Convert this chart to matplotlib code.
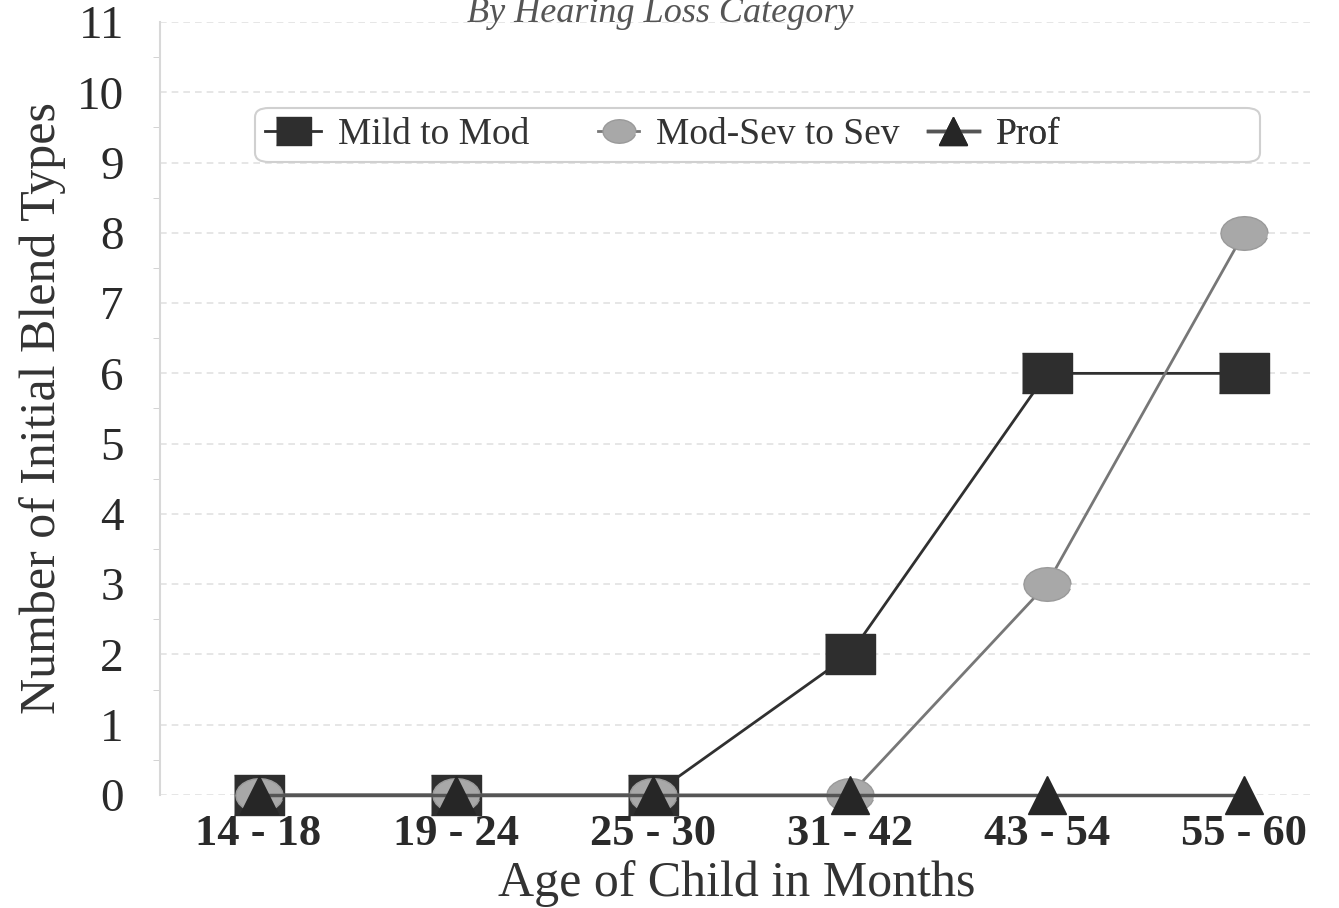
import math
import matplotlib
matplotlib.use("Agg")
import matplotlib.pyplot as plt
from matplotlib.patches import FancyBboxPatch

# data
age_groups = ["14 - 18", "19 - 24", "25 - 30", "31 - 42", "43 - 54", "55 - 60"]
mild_to_mod = [0, 0, 0, 2, 6, 6]
modsev_to_sev = [0, 0, 0, 0, 3, 8]
prof = [0, 0, 0, 0, 0, 0]
y_ticks = list(range(0, 12))

plt.rcParams['font.family'] = ['Liberation Serif', 'DejaVu Serif']

W, H = 1339, 908
fig = plt.figure(figsize=(W / 100, H / 100), dpi=100)
ax_l, ax_r, ax_t, ax_b = 160, 1313, 22, 795
ax = fig.add_axes([ax_l / W, 1 - ax_b / H, (ax_r - ax_l) / W, (ax_b - ax_t) / H])

x = list(range(len(age_groups)))
rect = [(-1.25, -1), (1.25, -1), (1.25, 1), (-1.25, 1)]
ellipse_pts = [(1.4 * math.cos(t / 24 * 2 * math.pi), math.sin(t / 24 * 2 * math.pi)) for t in range(24)]

h1, = ax.plot(x, mild_to_mod, color='#303030', lw=2, marker=rect, markersize=36,
              markerfacecolor='#2e2e2e', markeredgecolor='#2e2e2e', label='Mild to Mod',
              zorder=3, clip_on=False)
h2, = ax.plot(x, modsev_to_sev, color='#777777', lw=2, marker=ellipse_pts, markersize=34,
              markerfacecolor='#a8a8a8', markeredgecolor='#9a9a9a', label='Mod-Sev to Sev',
              zorder=4, clip_on=False)
h3, = ax.plot(x, prof, color='#555555', lw=2.5, marker='^', markersize=28,
              markerfacecolor='#262626', markeredgecolor='#262626', label='Prof',
              zorder=5, clip_on=False)

ax.set_xlim(-0.5, 5.35)
ax.set_ylim(0, 11)
ax.set_yticks(y_ticks)
ax.set_xticks(x)
ax.set_xticklabels(age_groups, fontsize=32, fontweight='bold', color='#2a2a2a')
ax.tick_params(axis='y', labelsize=34, length=0, pad=26, labelcolor='#2a2a2a')
ax.tick_params(axis='x', length=0, pad=14)
ax.set_yticks([v + 0.5 for v in range(11)], minor=True)
ax.tick_params(axis='y', which='minor', length=5, color='#cccccc')

ax.yaxis.grid(True, linestyle=(0, (4, 3)), color='#e2e2e2', lw=1.2)
ax.set_axisbelow(True)
for s in ['top', 'right', 'bottom']:
    ax.spines[s].set_visible(False)
ax.spines['left'].set_color('#d8d8d8')
ax.spines['left'].set_linewidth(1.5)

ax.set_xlabel('Age of Child in Months', fontsize=36, color='#333333', labelpad=4)
ax.set_ylabel('Number of Initial Blend Types', fontsize=36, color='#333333', labelpad=8)

fig.text(660 / W, 1 - 14 / H, 'By Hearing Loss Category', fontsize=26, style='italic',
         color='#555555', ha='center', va='center')


def to_ax(px, py):
    return (px - ax_l) / (ax_r - ax_l), (ax_b - py) / (ax_b - ax_t)


# legend frame spans wider than the entries, as in the original
bx0, by0 = to_ax(255, 162)
bx1, by1 = to_ax(1260, 108)
frame = FancyBboxPatch((bx0, by0), bx1 - bx0, by1 - by0, transform=ax.transAxes,
                       boxstyle='round,pad=0,rounding_size=0.012', facecolor='white',
                       edgecolor='#d0d0d0', lw=1.5, zorder=6, clip_on=False)
ax.add_patch(frame)

# one small legend per entry so the uneven spacing of the original is kept
entries = [(h1, 265, 1.5), (h2, 598, 1.1), (h3, 928, 1.35)]
for h, px, hl in entries:
    lx, ly = to_ax(px, 135)
    leg = plt.legend([h], [h.get_label()], loc='center left', bbox_to_anchor=(lx, ly),
                     bbox_transform=ax.transAxes, fontsize=27, frameon=False,
                     markerscale=0.7, handlelength=hl, handletextpad=0.45,
                     borderpad=0.0, borderaxespad=0)
    leg.set_zorder(7)
    for t in leg.get_texts():
        t.set_color('#333333')
    ax.add_artist(leg)

fig.savefig('out.png', dpi=100)
